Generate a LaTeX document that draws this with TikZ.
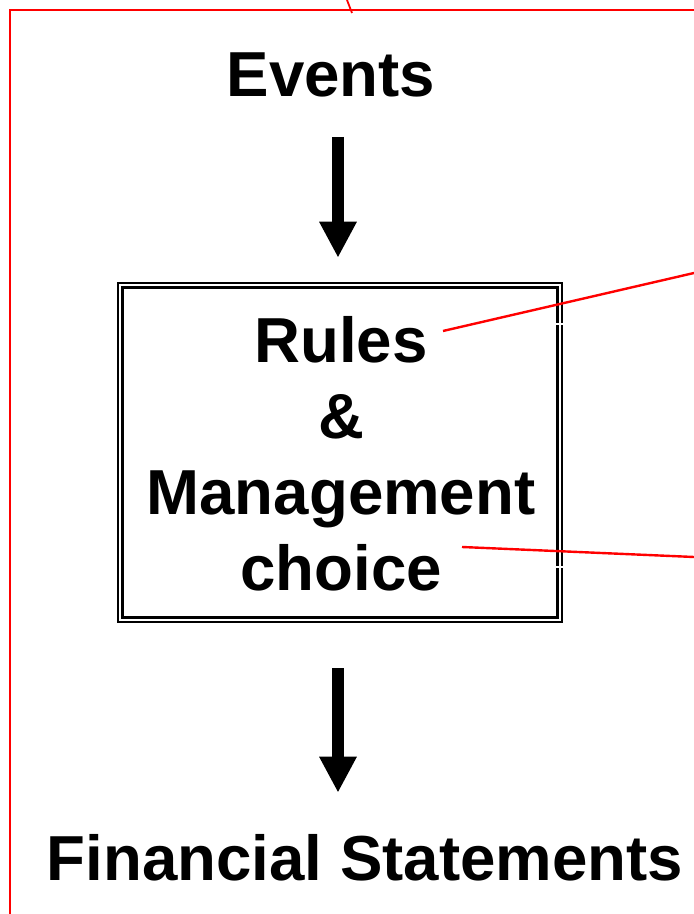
\documentclass[tikz,border=0pt]{standalone}
\usepackage{fontspec}
\setmainfont{Liberation Sans}
\usetikzlibrary{arrows.meta,calc}
\tikzset{
  bigtext/.style={font=\fontsize{63.6}{76}\selectfont\bfseries, inner sep=0pt},
  bigarrow/.style={line width=12pt, -{Triangle[width=35pt,length=36pt]}},
  redline/.style={draw=red, line width=2.4pt},
  framebox/.style={draw, line width=2.5pt, minimum width=444pt, minimum height=339pt, inner sep=0pt},
}
\begin{document}
\begin{tikzpicture}[x=1pt,y=1pt]
\useasboundingbox (0,0) rectangle (694,914);
% red frame
\coordinate (fTR) at (694,904);
\coordinate (fTL) at (10,904);
\coordinate (fBL) at (10,0);
\draw[redline] (fTR) -- (fTL) -- (fBL);
\coordinate (tA) at (347,914);
\coordinate (tB) at (352,901);
\draw[red, line width=1.8pt] (tA) -- (tB);
% texts
\node[bigtext, anchor=base] (events) at (331,817) {Events};
\node[framebox] (box) at (340,461.5) {};
\draw[line width=3pt] ([shift={(6,6)}]box.south west) rectangle ([shift={(-6,-6)}]box.north east);
\node[bigtext, align=center, anchor=north] (rules) at (341,598) {Rules\\\&\\Management\\choice};
\node[bigtext, anchor=base] (fin) at (365,34) {Financial Statements};
% arrows
\draw[bigarrow, shorten <=39pt, shorten >=24pt] ($(box.north |- events.south)+(-2,0)$) -- ($(box.north)+(-2,0)$);
\draw[bigarrow, shorten <=45pt, shorten >=41pt] ($(box.south)+(-2,0)$) -- ($(box.south |- fin.north)+(-2,0)$);
% white notches
\draw[white, line width=1.5pt] (553,590) -- (564,590);
\draw[white, line width=1.5pt] (553,347) -- (564,347);
% red connectors
\coordinate (r1a) at (443,583);
\coordinate (r1b) at (694,641);
\coordinate (r2a) at (462,367);
\coordinate (r2b) at (694,357);
\draw[redline] (r1a) -- (r1b);
\draw[redline] (r2a) -- (r2b);
\end{tikzpicture}
\end{document}
